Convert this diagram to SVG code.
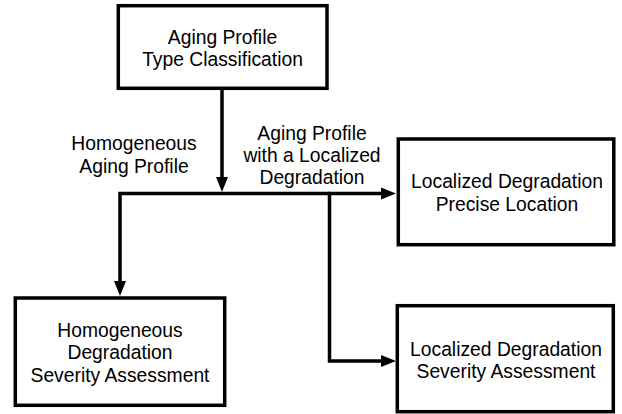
<svg xmlns="http://www.w3.org/2000/svg" width="622" height="414" viewBox="0 0 622 414">
<style>
  .box { fill: #ffffff; stroke: #000000; stroke-width: 3.5; }
  .conn { fill: none; stroke: #000000; stroke-width: 3.5; stroke-linejoin: miter; stroke-linecap: butt; }
  text { font-family: "Liberation Sans", Arial, sans-serif; font-size: 19.3px; fill: #000000; text-anchor: middle; }
</style>
<defs>
  <marker id="arrow" markerUnits="userSpaceOnUse" markerWidth="16" markerHeight="12" refX="7" refY="6" orient="auto" overflow="visible">
    <path d="M0,0 L15,6 L0,12 Z" fill="#000000"/>
  </marker>
</defs>
<g id="connectors">
  <path class="conn" d="M222,88 V184" marker-end="url(#arrow)"/>
  <path class="conn" d="M330,193.5 H120 V288" marker-end="url(#arrow)"/>
  <path class="conn" d="M328,193.5 H388" marker-end="url(#arrow)"/>
  <path class="conn" d="M329.5,193.5 V361 H388" marker-end="url(#arrow)"/>
  <g id="label-homogeneous">
    <text x="134" y="150">Homogeneous</text>
    <text x="134" y="172.5">Aging Profile</text>
  </g>
  <g id="label-localized">
    <text x="312" y="140">Aging Profile</text>
    <text x="312" y="162">with a Localized</text>
    <text x="312" y="184">Degradation</text>
  </g>
</g>
<g id="node-classification">
  <rect class="box" x="118.3" y="5.7" width="208.7" height="82.6"/>
  <text x="222.5" y="43.5">Aging Profile</text>
  <text x="222.5" y="66">Type Classification</text>
</g>
<g id="node-precise-location">
  <rect class="box" x="398.3" y="139" width="215.5" height="105.7"/>
  <text x="507" y="187.7">Localized Degradation</text>
  <text x="507" y="210.5">Precise Location</text>
</g>
<g id="node-homogeneous-severity">
  <rect class="box" x="15.3" y="298" width="209.4" height="107.3"/>
  <text x="120" y="336.7">Homogeneous</text>
  <text x="120" y="359.3">Degradation</text>
  <text x="120" y="381.7">Severity Assessment</text>
</g>
<g id="node-localized-severity">
  <rect class="box" x="397.3" y="305.7" width="216" height="106"/>
  <text x="506" y="355.7">Localized Degradation</text>
  <text x="506" y="378.3">Severity Assessment</text>
</g>
</svg>
